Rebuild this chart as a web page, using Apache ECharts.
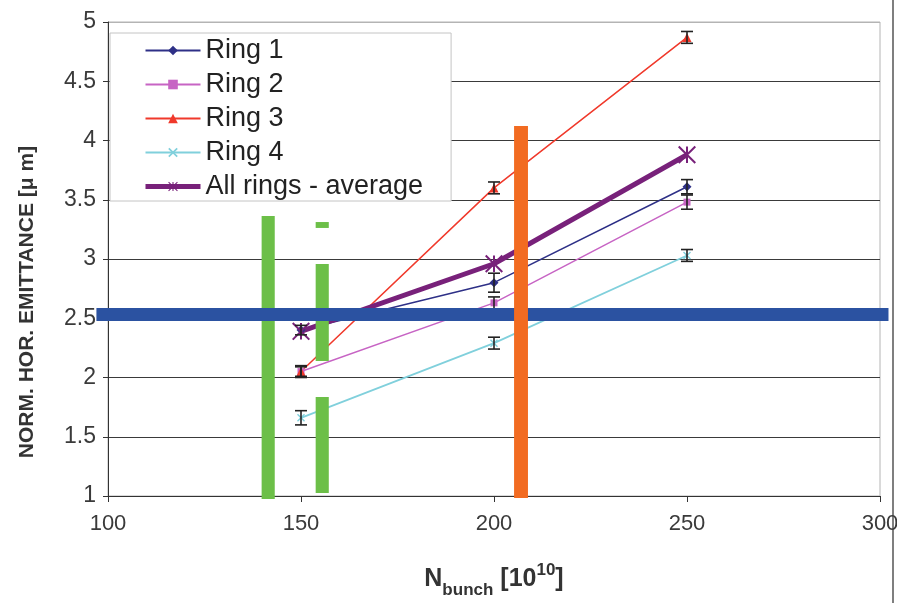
<!DOCTYPE html>
<html>
<head>
<meta charset="UTF-8">
<title>emittance vs N bunch</title>
<script src="https://cdn.jsdelivr.net/npm/echarts@6/dist/echarts.min.js"></script>
<style>
  html, body { margin: 0; padding: 0; background: #fff; }
  #chart { width: 897px; height: 603px; }
</style>
</head>
<body>
<div id="chart"></div>
<script>
// data
var nBunch = [150, 200, 250];
var ring1 = [2.40, 2.80, 3.61];
var ring2 = [2.05, 2.63, 3.48];
var ring3 = [2.05, 3.60, 4.87];
var ring4 = [1.66, 2.29, 3.03];
var average = [2.39, 2.96, 3.88];
var ring1Err = [0.04, 0.08, 0.06];
var ring2Err = [0.04, 0.05, 0.06];
var ring3Err = [0.05, 0.05, 0.05];
var ring4Err = [0.06, 0.05, 0.05];
var xTicks = [100, 150, 200, 250, 300];
var yTicks = [1, 1.5, 2, 2.5, 3, 3.5, 4, 4.5, 5];

// hand drawn highlight bars on top of the plot: [x0, x1, y0, y1]
var greenBars = [
  [139.8, 143.2, 0.975, 3.363],
  [153.8, 157.2, 3.262, 3.312],
  [153.8, 157.2, 2.139, 2.958],
  [153.8, 157.2, 1.025, 1.835]
];
var blueBand = [[97.0, 302.2, 2.477, 2.586]];
var orangeBar = [[205.2, 208.8, 0.983, 4.122]];

var font = 'Liberation Sans, Arial, sans-serif';

function pairs(vals) {
  return nBunch.map(function (x, i) { return [x, vals[i]]; });
}
function errData(vals, err) {
  return nBunch.map(function (x, i) { return [x, vals[i] - err[i], vals[i] + err[i]]; });
}

// asterisk marker: vertical + two diagonals, built from thin bars
function barPath(x1, y1, x2, y2, t) {
  var dx = x2 - x1, dy = y2 - y1;
  var len = Math.sqrt(dx * dx + dy * dy);
  var nx = -dy / len * t / 2, ny = dx / len * t / 2;
  return 'M' + (x1 + nx) + ',' + (y1 + ny) + ' L' + (x2 + nx) + ',' + (y2 + ny) +
    ' L' + (x2 - nx) + ',' + (y2 - ny) + ' L' + (x1 - nx) + ',' + (y1 - ny) + ' Z ';
}
var starPath = 'path://' + barPath(0, -10, 0, 10, 2.4) + barPath(-10, -10, 10, 10, 2.4) + barPath(10, -10, -10, 10, 2.4);
var crossPath = 'path://' + barPath(-10, -10, 10, 10, 4) + barPath(10, -10, -10, 10, 4);

function errorBars(vals, err) {
  return {
    type: 'custom',
    z: 4,
    silent: true,
    data: errData(vals, err),
    renderItem: function (params, api) {
      var lo = api.coord([api.value(0), api.value(1)]);
      var hi = api.coord([api.value(0), api.value(2)]);
      var w = 6;
      var st = { stroke: '#222', lineWidth: 1.6 };
      return {
        type: 'group',
        children: [
          { type: 'line', shape: { x1: lo[0], y1: lo[1], x2: hi[0], y2: hi[1] }, style: st },
          { type: 'line', shape: { x1: lo[0] - w, y1: lo[1], x2: lo[0] + w, y2: lo[1] }, style: st },
          { type: 'line', shape: { x1: hi[0] - w, y1: hi[1], x2: hi[0] + w, y2: hi[1] }, style: st }
        ]
      };
    }
  };
}

function rects(list, color, z) {
  return {
    type: 'custom',
    z: z,
    silent: true,
    clip: false,
    data: list,
    renderItem: function (params, api) {
      var a = api.coord([api.value(0), api.value(3)]);
      var b = api.coord([api.value(1), api.value(2)]);
      return {
        type: 'rect',
        shape: { x: a[0], y: a[1], width: b[0] - a[0], height: b[1] - a[1] },
        style: { fill: color }
      };
    }
  };
}

function ringLine(name, vals, color, symbol, size, width) {
  return {
    name: name,
    type: 'line',
    z: 3,
    data: pairs(vals),
    symbol: symbol,
    symbolSize: size,
    symbolKeepAspect: true,
    showAllSymbol: true,
    lineStyle: { color: color, width: width },
    itemStyle: { color: color },
    emphasis: { disabled: true }
  };
}

var chart = echarts.init(document.getElementById('chart'));

var gridColors = yTicks.map(function (v, i) { return i === yTicks.length - 1 ? '#b4b4b4' : '#3a3a3a'; });

var option = {
  backgroundColor: '#fff',
  animation: false,
  grid: {
    left: 108, right: 17, top: 22, bottom: 107,
    outerBoundsMode: 'none',
    containLabel: false,
    show: true, borderColor: '#b4b4b4', borderWidth: 1
  },
  legend: {
    left: 110, top: 33,
    orient: 'vertical',
    backgroundColor: '#fff',
    borderColor: '#c4c4c4',
    borderWidth: 1,
    borderRadius: 0,
    padding: [4, 28, 1, 33],
    itemWidth: 55,
    itemHeight: 12,
    itemGap: 7,
    textStyle: { fontFamily: font, fontSize: 27, color: '#222', lineHeight: 26 },
    data: ['Ring 1', 'Ring 2', 'Ring 3', 'Ring 4',
      { name: 'All rings - average', lineStyle: { width: 5 } }]
  },
  xAxis: {
    type: 'value',
    min: xTicks[0], max: xTicks[xTicks.length - 1], interval: 50,
    axisLine: { lineStyle: { color: '#333', width: 1 } },
    axisTick: { show: true, length: 6, inside: false, lineStyle: { color: '#333' } },
    axisLabel: { fontFamily: font, fontSize: 22, color: '#3a3a3a', margin: 17 },
    splitLine: { show: false },
    name: '{n|N}{sub|bunch}{n| [10}{sup|10}{n|]}',
    nameLocation: 'middle',
    nameGap: 66,
    nameTextStyle: {
      rich: {
        n: { fontFamily: font, fontSize: 25, fontWeight: 'bold', color: '#333', verticalAlign: 'bottom', lineHeight: 30 },
        sub: { fontFamily: font, fontSize: 17, fontWeight: 'bold', color: '#333', verticalAlign: 'bottom', lineHeight: 22, padding: [0, 0, -7, 0] },
        sup: { fontFamily: font, fontSize: 17, fontWeight: 'bold', color: '#333', verticalAlign: 'top', lineHeight: 30, padding: [0, 0, 10, 0] }
      }
    }
  },
  yAxis: {
    type: 'value',
    min: yTicks[0], max: yTicks[yTicks.length - 1], interval: 0.5,
    axisLine: { show: true, lineStyle: { color: '#333', width: 1 } },
    axisTick: { show: true, length: 5, lineStyle: { color: '#333' } },
    axisLabel: { fontFamily: font, fontSize: 23, color: '#3a3a3a', margin: 12 },
    splitLine: { show: true, lineStyle: { color: gridColors, width: 1 } },
    name: 'NORM. HOR. EMITTANCE [\u03bc m]',
    nameLocation: 'middle',
    nameGap: 70,
    nameTextStyle: { fontFamily: font, fontSize: 21, fontWeight: 'bold', color: '#333', padding: [0, 86, 0, 0] }
  },
  series: [
    ringLine('Ring 1', ring1, '#2e3087', 'diamond', 9, 1.5),
    ringLine('Ring 2', ring2, '#c764c4', 'rect', 7, 1.5),
    ringLine('Ring 3', ring3, '#f0392b', 'triangle', 9, 1.5),
    ringLine('Ring 4', ring4, '#80d0dc', crossPath, 8, 1.8),
    ringLine('All rings - average', average, '#78217a', starPath, 18, 5),
    errorBars(ring1, ring1Err),
    errorBars(ring2, ring2Err),
    errorBars(ring3, ring3Err),
    errorBars(ring4, ring4Err),
    rects(greenBars, '#6cbf48', 10),
    rects(blueBand, '#2b52a1', 11),
    rects(orangeBar, '#f26b21', 12)
  ],
  graphic: [
    { type: 'line', shape: { x1: 893, y1: 0, x2: 893, y2: 603 }, style: { stroke: '#555', lineWidth: 1.5 } }
  ]
};

chart.setOption(option);
</script>
</body>
</html>
